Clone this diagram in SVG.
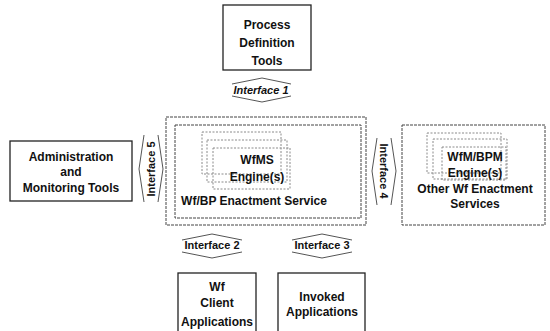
<svg xmlns="http://www.w3.org/2000/svg" width="550" height="331" viewBox="0 0 550 331">
  <style>
    .box { fill: #ffffff; stroke: #222; stroke-width: 1.3; }
    .frame { fill: none; stroke: #444; stroke-width: 1; stroke-dasharray: 3 1; }
    .eng { fill: none; stroke: #8a8a8a; stroke-width: 1; stroke-dasharray: 2 1.5; }
    .lbl { font-family: "Liberation Sans", Arial, sans-serif; font-size: 12px; font-weight: bold; fill: #111; text-anchor: middle; }
    .ifc { font-family: "Liberation Sans", Arial, sans-serif; font-size: 11px; font-weight: bold; fill: #111; text-anchor: middle; }
    .chev { fill: none; stroke: #555; stroke-width: 1; }
  </style>

  <!-- connectors: double-headed interface arrows -->
  <g id="connectors">
    <g id="if1">
      <polyline class="chev" points="232,84 262,78 291,84"/>
      <polyline class="chev" points="232,96 262,102 291,96"/>
      <text class="ifc" x="261" y="94" font-style="italic">Interface 1</text>
    </g>
    <g id="if5">
      <polyline class="chev" points="144,135 139,169 144,202"/>
      <polyline class="chev" points="158,135 163,169 158,202"/>
      <text class="ifc" transform="translate(155,169) rotate(-90)">Interface 5</text>
    </g>
    <g id="if4">
      <polyline class="chev" points="377,138 372,171 377,205"/>
      <polyline class="chev" points="391,138 396,171 391,205"/>
      <text class="ifc" transform="translate(380,171) rotate(90)">Interface 4</text>
    </g>
    <g id="if2">
      <polyline class="chev" points="182,240 212,234 242,240"/>
      <polyline class="chev" points="182,252 212,258 242,252"/>
      <text class="ifc" x="212" y="249">Interface 2</text>
    </g>
    <g id="if3">
      <polyline class="chev" points="292,240 322,234 352,240"/>
      <polyline class="chev" points="292,252 322,258 352,252"/>
      <text class="ifc" x="322" y="249">Interface 3</text>
    </g>
  </g>

  <g id="process-definition-tools">
    <rect class="box" x="223" y="5" width="88" height="65"/>
    <text class="lbl" x="267" y="29">Process</text>
    <text class="lbl" x="267" y="47">Definition</text>
    <text class="lbl" x="267" y="65">Tools</text>
  </g>

  <g id="admin-tools">
    <rect class="box" x="10" y="141" width="122" height="60"/>
    <text class="lbl" x="71" y="161">Administration</text>
    <text class="lbl" x="71" y="176">and</text>
    <text class="lbl" x="71" y="192">Monitoring Tools</text>
  </g>

  <g id="enactment-service">
    <rect class="frame" x="166" y="117" width="200" height="108" fill="#fff"/>
    <rect class="frame" x="175" y="125" width="186" height="93"/>
    <rect class="eng" x="202" y="132" width="79" height="42"/>
    <rect class="eng" x="207" y="140" width="80" height="42"/>
    <rect class="eng" x="213" y="148" width="77" height="41" fill="#fff"/>
    <text class="lbl" x="257" y="164" font-size="11.5">WfMS</text>
    <text class="lbl" x="257" y="181" font-size="11.5">Engine(s)</text>
    <text class="lbl" x="254" y="205" font-size="11.5">Wf/BP Enactment Service</text>
  </g>

  <g id="other-services">
    <rect class="frame" x="402" y="125" width="143" height="100" fill="#fff"/>
    <rect class="eng" x="427" y="133" width="74" height="40"/>
    <rect class="eng" x="433" y="139" width="74" height="40"/>
    <rect class="eng" x="442" y="147" width="64" height="33" fill="#fff"/>
    <text class="lbl" x="475" y="161" font-size="11">WfM/BPM</text>
    <text class="lbl" x="475" y="177" font-size="11">Engine(s)</text>
    <text class="lbl" x="475" y="193" font-size="11.5">Other Wf Enactment</text>
    <text class="lbl" x="475" y="208" font-size="11.5">Services</text>
  </g>

  <g id="client-applications">
    <rect class="box" x="178" y="273" width="78" height="62"/>
    <text class="lbl" x="217" y="291">Wf</text>
    <text class="lbl" x="217" y="307">Client</text>
    <text class="lbl" x="217" y="326">Applications</text>
  </g>

  <g id="invoked-applications">
    <rect class="box" x="278" y="273" width="87" height="62"/>
    <text class="lbl" x="322" y="301">Invoked</text>
    <text class="lbl" x="322" y="316">Applications</text>
  </g>
</svg>
